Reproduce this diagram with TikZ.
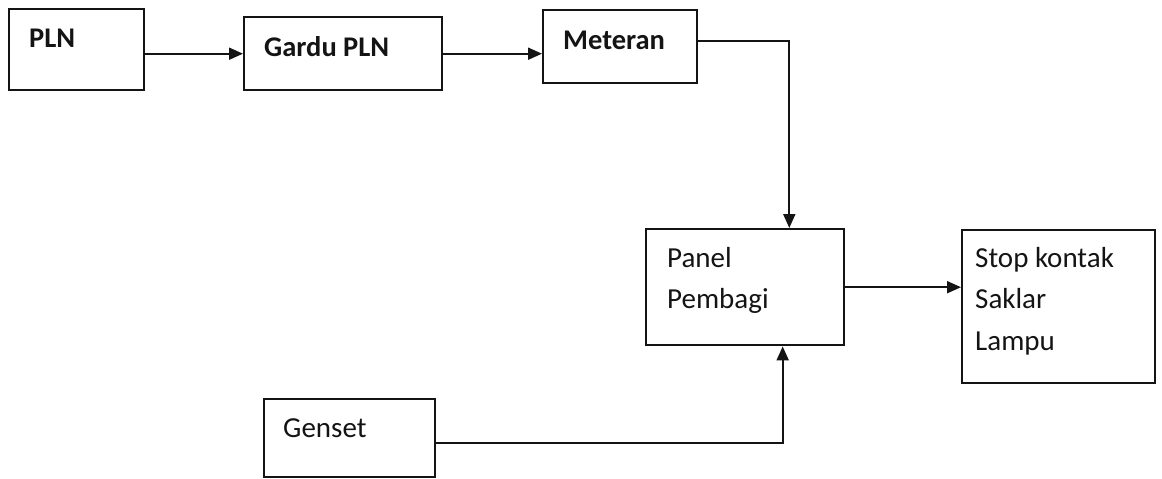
\documentclass[tikz,border=0pt]{standalone}
\usepackage{fontspec}
\setmainfont{Carlito}
\usetikzlibrary{arrows.meta,calc}
\definecolor{ink}{gray}{0.08}
\tikzset{
  blk/.style={draw=ink, line width=2.4pt, rectangle, inner sep=0pt, anchor=north west},
  lbl/.style={anchor=base west, inner sep=0pt, text=ink, font=\fontsize{29}{41.5}\selectfont},
  blbl/.style={lbl, font=\fontsize{28.5}{41.5}\selectfont\bfseries},
  conn/.style={draw=ink, line width=1.9pt, -{Triangle[length=14pt,width=12pt]}}
}
\begin{document}
\begin{tikzpicture}[x=1pt,y=-1pt]
\useasboundingbox (0,0) rectangle (1162,479);
% boxes
\node[blk, minimum width=135pt, minimum height=81pt] (pln) at (8,8) {};
\node[blk, minimum width=198pt, minimum height=73pt] (gardu) at (243,16) {};
\node[blk, minimum width=154pt, minimum height=73pt] (meteran) at (542,9) {};
\node[blk, minimum width=198pt, minimum height=116pt] (panel) at (645,228) {};
\node[blk, minimum width=193pt, minimum height=153pt] (stop) at (961,229) {};
\node[blk, minimum width=171pt, minimum height=78pt] (genset) at (263,398) {};
% labels
\node[blbl] (tpln) at (29,47) {PLN};
\node[blbl] (tgardu) at (264,56) {Gardu PLN};
\node[blbl] (tmeteran) at (563,49) {Meteran};
\node[lbl] (tpanel1) at (667,267) {Panel};
\node[lbl] (tpanel2) at (667,308) {Pembagi};
\node[lbl] (tstop1) at (975,267) {Stop kontak};
\node[lbl] (tstop2) at (975,308) {Saklar};
\node[lbl] (tstop3) at (975,350) {Lampu};
\node[lbl] (tgenset) at (283,437) {Genset};
% connection points
\coordinate (mOut) at ($(meteran.north east)!0.43!(meteran.south east)$);
\coordinate (pIn) at ($(panel.north west)!0.72!(panel.north east)$);
\coordinate (pIn2) at ($(panel.south west)!0.687!(panel.south east)$);
\coordinate (gOut) at ($(genset.north east)!0.56!(genset.south east)$);
% connectors
\draw[conn] (gardu.west -| pln.east) -- (gardu.west);
\draw[conn] (gardu.east) -- (gardu.east -| meteran.west);
\draw[conn] (mOut) -| (pIn);
\draw[conn] (panel.east) -- (panel.east -| stop.west);
\draw[conn] (gOut) -| (pIn2);
\end{tikzpicture}
\end{document}
